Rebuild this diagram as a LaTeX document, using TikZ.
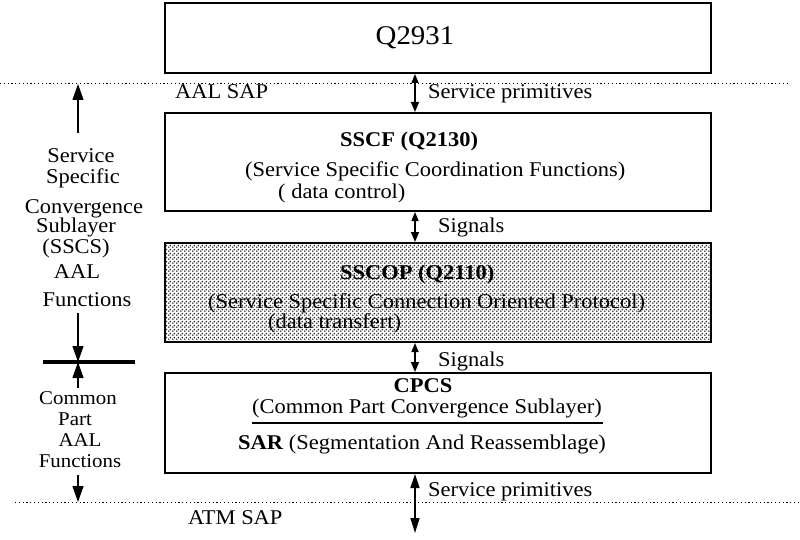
\documentclass[tikz,border=0pt]{standalone}
\usepackage{fontspec}
\setmainfont{Liberation Serif}[FakeStretch=1.07]
\usetikzlibrary{arrows.meta,patterns}
\pgfdeclarepatternformonly{finedots}{\pgfpointorigin}{\pgfqpoint{4pt}{4pt}}{\pgfqpoint{4pt}{4pt}}{%
  \pgfpathcircle{\pgfqpoint{1pt}{1pt}}{1.05pt}%
  \pgfpathcircle{\pgfqpoint{3pt}{3pt}}{1.05pt}%
  \pgfusepath{fill}}
\begin{document}
\begin{tikzpicture}[x=1pt,y=-1pt,
  box/.style={draw,line width=2pt,inner sep=0pt,minimum width=546pt},
  txt/.style={inner sep=0pt,anchor=base west,font=\fontsize{21}{24}\selectfont},
  ctxt/.style={inner sep=0pt,anchor=base,font=\fontsize{21}{24}\selectfont},
  tight/.style={text height=12pt,text depth=0pt,font=\fontsize{19.5}{21}\selectfont},
  sap/.style={line width=1pt,dash pattern=on 1.2pt off 2.6pt},
  link/.style={line width=1.4pt,{Triangle[length=9pt,width=7pt]}-{Triangle[length=10pt,width=8pt]}},
  blink/.style={line width=1.4pt,{Triangle[length=14pt,width=9pt]}-{Triangle[length=15pt,width=9pt]}},
  side/.style={line width=1.2pt,-{Triangle[length=16pt,width=11pt]}},
]
\useasboundingbox (0,0) rectangle (800,540);
% boxes
\node[box,minimum height=70pt] (q) at (438,38) {};
\node[box,minimum height=98pt] (sscf) at (438,162) {};
\node[box,minimum height=99pt,fill=white,pattern=finedots,pattern color=black!85] (sscop) at (438,292.5) {};
\node[box,minimum height=100pt] (cpcs) at (438,423) {};
% box texts
\node[inner sep=0pt,font=\fontsize{27}{30}\selectfont] (qt) at (415,38) {Q2931};
\node[txt] (sscft) at (340,147) {\bfseries SSCF (Q2130)};
\node[txt] (sscfd) at (245,177) {(Service Specific Coordination Functions)};
\node[txt] (sscfc) at (278,198) {( data control)};
\node[txt] (sscopt) at (340,279) {\bfseries SSCOP (Q2110)};
\node[txt] (sscopd) at (208,308) {(Service Specific Connection Oriented Protocol)};
\node[txt] (sscopc) at (268,328) {(data transfert)};
\node[ctxt] (cpcst) at (423,392) {\bfseries CPCS};
\node[txt] (cpcsd) at (252,413) {(Common Part Convergence Sublayer)};
\node[txt] (sart) at (238,449) {\textbf{SAR} (Segmentation And Reassemblage)};
\coordinate (ul) at (252,423);
\coordinate (ur) at (603,423);
\draw[line width=2.5pt] (ul) -- (ur);
% SAP lines
\coordinate (t1) at (0,84);
\coordinate (t2) at (788,84);
\coordinate (b1) at (15,502);
\coordinate (b2) at (800,502);
\draw[sap] (t1) -- (t2);
\draw[sap] (b1) -- (b2);
\node[txt] (aalsap) at (175,99) {AAL SAP};
\node[txt] (atmsap) at (188,524) {ATM SAP};
\node[txt] (sp1) at (428,99) {Service primitives};
\node[txt] (sp2) at (428,496) {Service primitives};
\node[txt] (sg1) at (438,233) {Signals};
\node[txt] (sg2) at (438,366) {Signals};
% vertical connectors
\coordinate (ax) at (415,0);
\coordinate (bot) at (415,533);
\draw[link] (ax |- q.south) -- (ax |- sscf.north);
\draw[link] (ax |- sscf.south) -- (ax |- sscop.north);
\draw[link] (ax |- sscop.south) -- (ax |- cpcs.north);
\draw[blink] (ax |- cpcs.south) -- (bot);
% left side
\node[ctxt] (l1) at (81,163) {Service};
\node[ctxt] (l2) at (83,184) {Specific};
\node[ctxt] (l3) at (84,213) {Convergence};
\node[ctxt] (l4) at (76,233) {Sublayer};
\node[ctxt] (l5) at (76,253) {(SSCS)};
\node[ctxt] (l6) at (77,278) {AAL};
\node[ctxt] (l7) at (87,306) {Functions};
\node[ctxt,tight] (m1) at (78,404) {Common};
\node[ctxt,tight] (m2) at (75,425) {Part};
\node[ctxt,tight] (m3) at (80,446) {AAL};
\node[ctxt,tight] (m4) at (80,467) {Functions};
\coordinate (la) at (78,133);
\coordinate (lt) at (78,84);
\coordinate (lb) at (78,313);
\coordinate (lm) at (78,362);
\coordinate (lc) at (78,388);
\coordinate (ld) at (78,475);
\coordinate (le) at (78,502);
\coordinate (bl) at (43,362);
\coordinate (br) at (135,362);
\draw[side] (la) -- (lt);
\draw[side] (lb) -- (lm);
\draw[side] (lc) -- (lm);
\draw[side] (ld) -- (le);
\draw[line width=4pt] (bl) -- (br);
\end{tikzpicture}
\end{document}
